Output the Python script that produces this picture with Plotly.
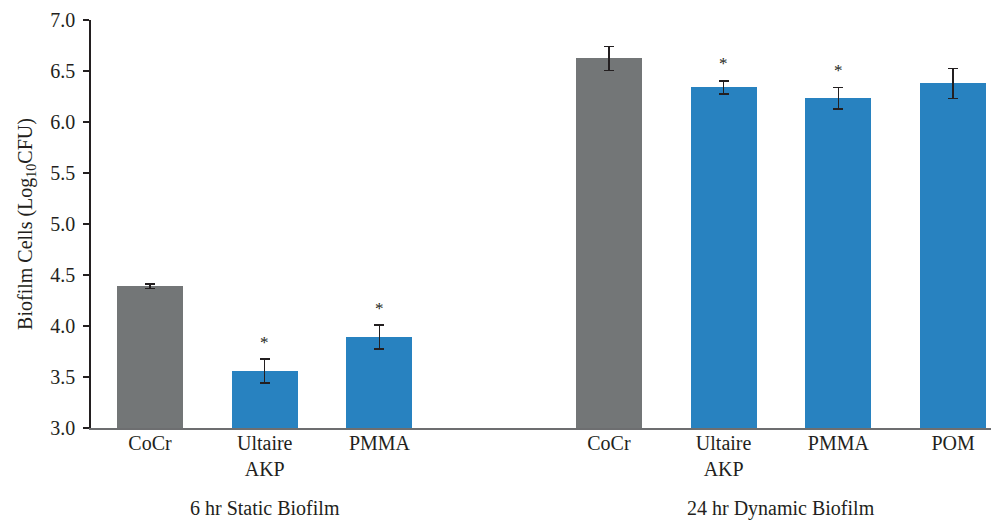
import plotly.graph_objects as go

categories = ["CoCr", "Ultaire<br>AKP", "PMMA", "CoCr", "Ultaire<br>AKP", "PMMA", "POM"]
slots = [0, 1, 2, 4, 5, 6, 7]
values = [4.39, 3.558, 3.891, 6.624, 6.339, 6.231, 6.378]
errors = [0.02, 0.117, 0.117, 0.118, 0.064, 0.105, 0.147]
significant = [False, True, True, False, True, True, False]
groups = ["6 hr Static Biofilm", "24 hr Dynamic Biofilm"]
group_centers = [1, 5.5]
colors = ["#737677", "#2882c0", "#2882c0", "#737677", "#2882c0", "#2882c0", "#2882c0"]
yticks = [3.0, 3.5, 4.0, 4.5, 5.0, 5.5, 6.0, 6.5, 7.0]

FONT = "Liberation Serif"
TXT = "#231f20"

fig = go.Figure()
fig.add_trace(go.Bar(
    x=slots, y=[v - 3.0 for v in values], base=3.0,
    width=0.575,
    marker=dict(color=colors, line=dict(width=0)),
    error_y=dict(type="data", array=errors, visible=True, color=TXT, thickness=1.5, width=5),
    hoverinfo="skip",
))

for s, v, e, sig in zip(slots, values, errors, significant):
    if sig:
        fig.add_annotation(x=s, y=v + e, yref="y", text="*", showarrow=False,
                           yshift=17, font=dict(family=FONT, size=17, color=TXT))

for g, c in zip(groups, group_centers):
    fig.add_annotation(x=c, y=0, yref="paper", yanchor="top", text=g, showarrow=False,
                       yshift=-67, font=dict(family=FONT, size=20, color=TXT))

fig.update_layout(
    width=991, height=515,
    margin=dict(l=83, r=0, t=12, b=95),
    paper_bgcolor="white", plot_bgcolor="white",
    showlegend=False,
    bargap=0,
    xaxis=dict(
        range=[-0.514, 7.40], tickmode="array", tickvals=slots, ticktext=categories,
        showline=True, linecolor="#6d6e70", linewidth=2, ticks="", showgrid=False,
        zeroline=False, tickfont=dict(family=FONT, size=20, color=TXT), ticklabelstandoff=-4,
    ),
    yaxis=dict(
        range=[3.0, 7.0], tickmode="array", tickvals=yticks,
        ticktext=[f"{t:.1f}" for t in yticks],
        showline=True, linecolor=TXT, linewidth=1.5, ticks="outside", ticklen=6,
        tickcolor=TXT, tickwidth=1.5, showgrid=False, zeroline=False,
        tickfont=dict(family=FONT, size=20, color=TXT), ticklabelstandoff=4,
        title=dict(text="Biofilm Cells (Log<sub>10</sub>CFU)", standoff=12,
                   font=dict(family=FONT, size=20, color=TXT)),
    ),
)

fig.write_html("out.html")
